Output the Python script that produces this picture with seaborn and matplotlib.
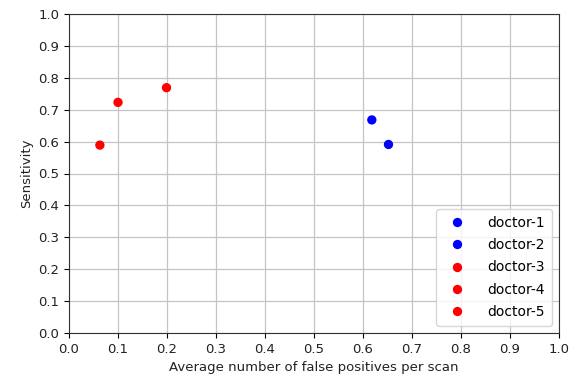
import pandas as pd
import seaborn as sns
from matplotlib import pyplot as plt

doctors = ["doctor-1", "doctor-2", "doctor-3", "doctor-4", "doctor-5"]
fp_per_scan = [0.618, 0.652, 0.063, 0.100, 0.199]
sensitivity = [0.668, 0.591, 0.589, 0.723, 0.769]
colors = ["blue", "blue", "red", "red", "red"]

df = pd.DataFrame({"doctor": doctors, "fp": fp_per_scan, "sens": sensitivity})

fig, ax = plt.subplots(figsize=(5.72, 3.85), dpi=100)
sns.scatterplot(data=df, x="fp", y="sens", hue="doctor",
                palette=dict(zip(doctors, colors)), s=45, edgecolor="none", ax=ax, zorder=3)
ax.set_xlim(0, 1)
ax.set_ylim(0, 1)
ax.set_xticks([i / 10 for i in range(11)])
ax.set_yticks([i / 10 for i in range(11)])
ax.grid(True, color="#c4c4c4", linewidth=0.9)
ax.set_axisbelow(True)
ax.set_xlabel("Average number of false positives per scan", fontsize=9.5, color="#222222")
ax.set_ylabel("Sensitivity", fontsize=9.5, color="#222222")
ax.tick_params(labelsize=9.5, labelcolor="#222222")
for sp in ax.spines.values():
    sp.set_color("#333333")
leg = ax.legend(loc="lower right", fontsize=10, title=None,
                labelspacing=0.6, handletextpad=1.2, borderpad=0.5)
plt.subplots_adjust(left=69/572, right=559/572, top=1-14/385, bottom=1-333/385)
plt.savefig("out.png", dpi=100)
